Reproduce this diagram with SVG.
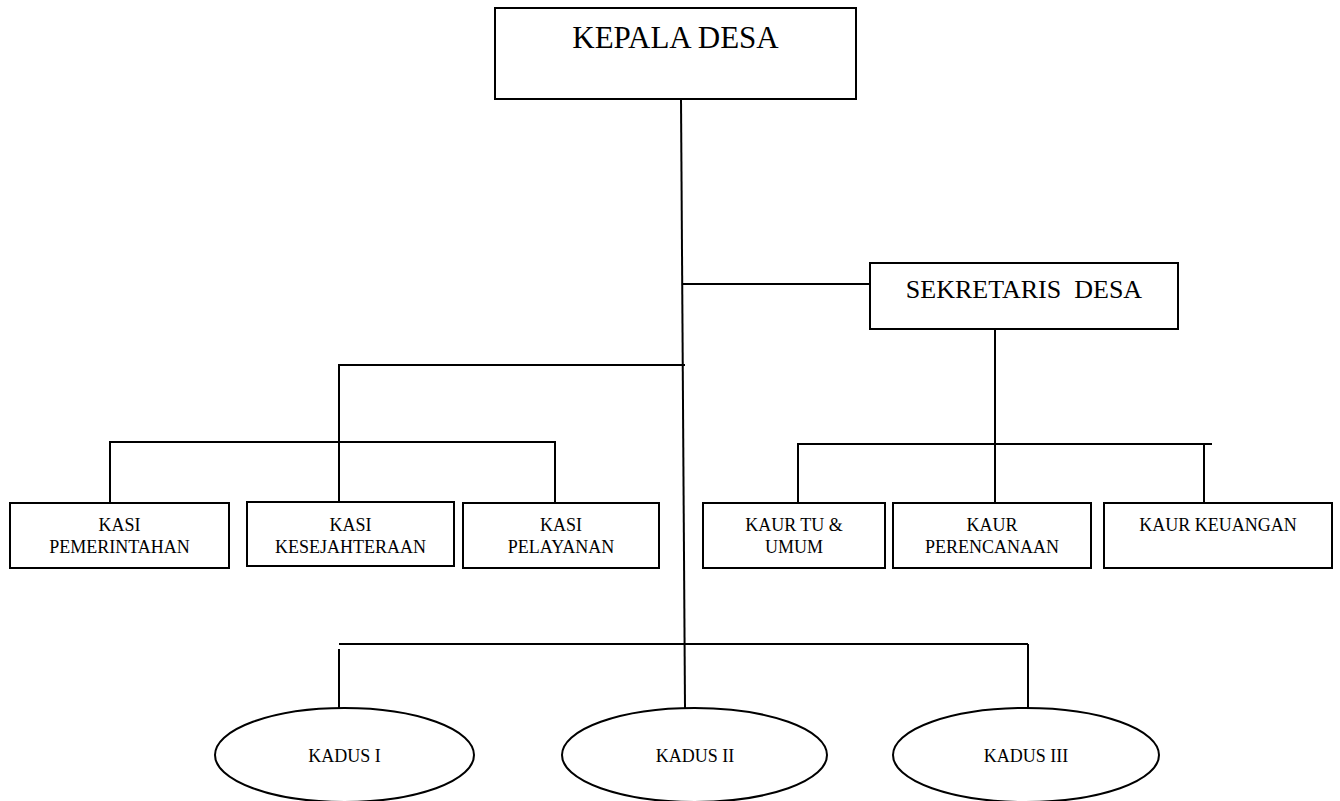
<svg xmlns="http://www.w3.org/2000/svg" width="1340" height="801" viewBox="0 0 1340 801">
<style>
.box{fill:#fff;stroke:#000;stroke-width:2}
.ln{fill:none;stroke:#000;stroke-width:2}
text{font-family:"Liberation Serif","Times New Roman",serif;fill:#000;text-anchor:middle}
.s{font-size:18px}
</style>
<rect width="1340" height="801" fill="#fff"/>
<g id="connectors">
<line class="ln" x1="681" y1="99" x2="685" y2="708"/>
<line class="ln" x1="682" y1="284" x2="870" y2="284"/>
<polyline class="ln" points="685,365 339,365 339,502"/>
<polyline class="ln" points="110,503 110,442 555,442 555,503"/>
<line class="ln" x1="995" y1="329" x2="995" y2="503"/>
<polyline class="ln" points="798,503 798,444 1212,444"/>
<line class="ln" x1="1204" y1="444" x2="1204" y2="502"/>
<line class="ln" x1="339" y1="644" x2="1028" y2="644"/>
<line class="ln" x1="339" y1="649" x2="339" y2="708"/>
<line class="ln" x1="1028" y1="644" x2="1028" y2="708"/>
</g>
<g id="kepala-desa">
<rect class="box" x="495" y="8" width="361" height="91"/>
<text x="675.5" y="48" font-size="31">KEPALA DESA</text>
</g>
<g id="sekretaris-desa">
<rect class="box" x="870" y="263" width="308" height="66"/>
<text x="1024" y="298" font-size="26" xml:space="preserve">SEKRETARIS  DESA</text>
</g>
<g id="kasi-pemerintahan">
<rect class="box" x="10" y="503" width="219" height="65"/>
<text class="s" x="119.5" y="531">KASI</text>
<text class="s" x="119.5" y="553">PEMERINTAHAN</text>
</g>
<g id="kasi-kesejahteraan">
<rect class="box" x="247" y="502" width="207" height="64"/>
<text class="s" x="350.5" y="531">KASI</text>
<text class="s" x="350.5" y="553">KESEJAHTERAAN</text>
</g>
<g id="kasi-pelayanan">
<rect class="box" x="463" y="503" width="196" height="65"/>
<text class="s" x="561" y="531">KASI</text>
<text class="s" x="561" y="553">PELAYANAN</text>
</g>
<g id="kaur-tu-umum">
<rect class="box" x="703" y="503" width="182" height="65"/>
<text class="s" x="794" y="531">KAUR TU &amp;</text>
<text class="s" x="794" y="553">UMUM</text>
</g>
<g id="kaur-perencanaan">
<rect class="box" x="893" y="503" width="198" height="65"/>
<text class="s" x="992" y="531">KAUR</text>
<text class="s" x="992" y="553">PERENCANAAN</text>
</g>
<g id="kaur-keuangan">
<rect class="box" x="1104" y="503" width="228" height="65"/>
<text class="s" x="1218" y="531">KAUR KEUANGAN</text>
</g>
<g id="kadus-1">
<ellipse class="box" cx="344.5" cy="755" rx="129.5" ry="47"/>
<text class="s" x="344.5" y="762">KADUS I</text>
</g>
<g id="kadus-2">
<ellipse class="box" cx="694.5" cy="755" rx="132.5" ry="47"/>
<text class="s" x="695" y="762">KADUS II</text>
</g>
<g id="kadus-3">
<ellipse class="box" cx="1026" cy="755" rx="133" ry="47"/>
<text class="s" x="1026" y="762">KADUS III</text>
</g>
</svg>
